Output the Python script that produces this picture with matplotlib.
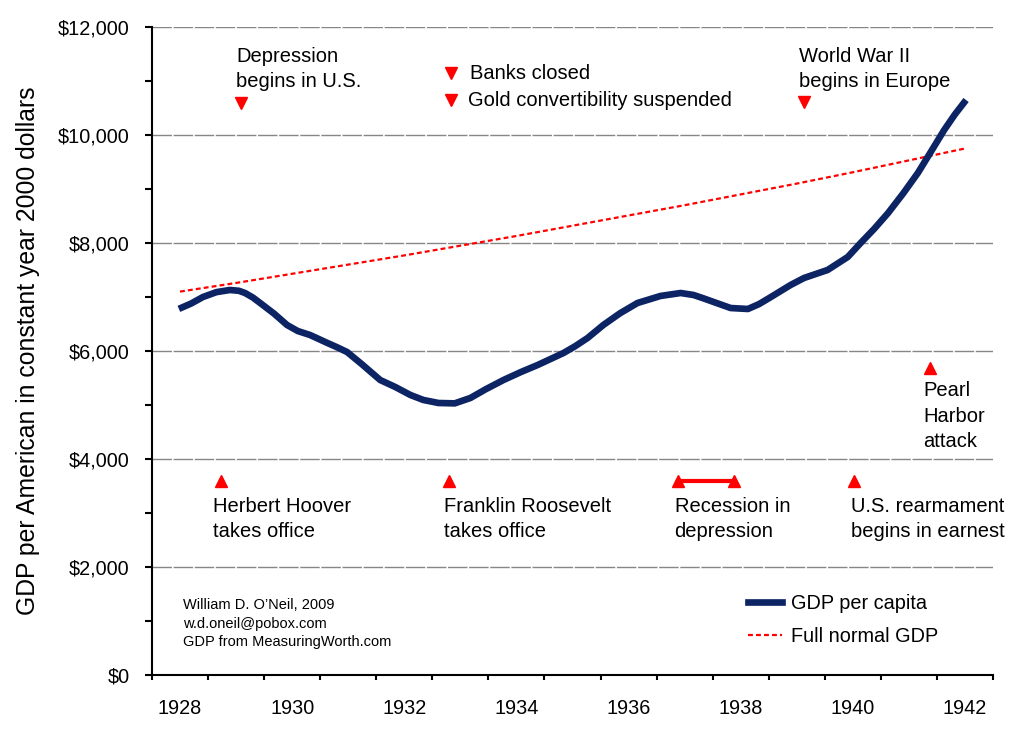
import matplotlib
matplotlib.use("Agg")
import matplotlib.pyplot as plt
from matplotlib.lines import Line2D

plt.rcParams["font.family"] = ["Liberation Sans", "DejaVu Sans"]

# GDP per capita (year position, 2000 dollars)
gdp_years = [1927.98, 1928.2, 1928.41, 1928.65, 1928.89, 1929.05, 1929.16, 1929.3,
             1929.43, 1929.68, 1929.91, 1930.1, 1930.32, 1930.63, 1930.8,
             1930.98, 1931.25, 1931.57, 1931.84, 1932.11, 1932.34, 1932.61, 1932.9,
             1933.18, 1933.45, 1933.77, 1934.08, 1934.38, 1934.84, 1935.05, 1935.27,
             1935.55, 1935.85, 1936.16, 1936.57, 1936.93, 1937.16, 1937.35,
             1937.52, 1937.82, 1938.13, 1938.33, 1938.54, 1938.89, 1939.13, 1939.55,
             1939.91, 1940.14, 1940.38, 1940.63, 1940.9, 1941.16, 1941.39, 1941.63,
             1941.82, 1942.02]
gdp_values = [6780, 6880, 7000, 7090, 7130, 7115, 7074, 6990,
              6889, 6690, 6481, 6370, 6296, 6148, 6070,
              5981, 5750, 5463, 5333, 5185, 5093, 5037, 5030,
              5130, 5290, 5463, 5610, 5741, 5963, 6090, 6241,
              6481, 6700, 6889, 7019, 7074, 7037, 6970,
              6907, 6796, 6778, 6870, 7000, 7222, 7352, 7500,
              7741, 8000, 8260, 8556, 8920, 9296, 9685, 10093,
              10380, 10648]

# full normal GDP trend, one value per year
trend_years = list(range(1928, 1943))
trend_values = [7100, 7260, 7430, 7600, 7770, 7950, 8130, 8320,
                8510, 8700, 8900, 9100, 9310, 9530, 9750]

year_labels = [1928, 1930, 1932, 1934, 1936, 1938, 1940, 1942]

# event markers: year position, marker height
down_events_x = [1929.09, 1932.84, 1932.84, 1939.125]
down_events_y = [10593, 11148, 10648, 10611]
up_events_x = [1928.73, 1932.80, 1936.89, 1937.875, 1940.02, 1941.375]
up_events_y = [3593, 3593, 3593, 3593, 3593, 5685]

fig = plt.figure(figsize=(10.24, 7.32), dpi=100)
ax = fig.add_axes([0.1484, 0.0779, 0.9697 - 0.1484, 0.9631 - 0.0779])

ax.set_xlim(1927.5, 1942.5)
ax.set_ylim(0, 12000)

for v in range(2000, 12001, 2000):
    ax.axhline(v, color="#868686", lw=1.0, ls=(0, (14, 1.2)), zorder=1)

ax.plot(trend_years, trend_values, color="#ff0000", lw=1.6, ls=(0, (2.2, 1.4)),
        zorder=3, label="Full normal GDP")
ax.plot(gdp_years, gdp_values, color="#0c2463", lw=4.8, solid_capstyle="butt",
        solid_joinstyle="round", zorder=4, label="GDP per capita")

# recession bar
ax.plot(up_events_x[2:4], up_events_y[2:4], color="#ff0000", lw=3, zorder=4)
ax.plot(down_events_x, down_events_y, ls="none", marker="v", ms=9,
        color="#ff0000", zorder=5)
ax.plot(up_events_x, up_events_y, ls="none", marker="^", ms=9,
        color="#ff0000", zorder=5)

fs = 14.5
txt = dict(fontsize=fs, va="top", ha="left", linespacing=1.42, color="black")
ax.text(1929.0, 11630, "Depression\nbegins in U.S.", **txt)
ax.text(1939.04, 11630, "World War II\nbegins in Europe", **txt)
ax.text(1933.18, 11148, "Banks closed", fontsize=fs, va="center", ha="left")
ax.text(1933.14, 10648, "Gold convertibility suspended", fontsize=fs, va="center", ha="left")
ax.text(1928.59, 3300, "Herbert Hoover\ntakes office", **txt)
ax.text(1932.70, 3300, "Franklin Roosevelt\ntakes office", **txt)
ax.text(1936.82, 3300, "Recession in\ndepression", **txt)
ax.text(1939.96, 3300, "U.S. rearmament\nbegins in earnest", **txt)
ax.text(1941.25, 5440, "Pearl\nHarbor\nattack", **txt)
ax.text(1928.05, 1426, "William D. O\u2019Neil, 2009\nw.d.oneil@pobox.com\nGDP from MeasuringWorth.com",
        fontsize=10.5, va="top", ha="left", linespacing=1.42)

# axes styling
for side in ["top", "right"]:
    ax.spines[side].set_visible(False)
for side in ["left", "bottom"]:
    ax.spines[side].set_linewidth(1.5)
    ax.spines[side].set_color("black")

ax.set_yticks(range(0, 12001, 2000))
ax.set_yticklabels(["${:,}".format(v) for v in range(0, 12001, 2000)])
ax.set_yticks(range(1000, 12000, 2000), minor=True)
ax.tick_params(axis="y", which="both", direction="out", length=5, width=1.5,
               labelsize=14.3, pad=11)

ax.set_xticks(year_labels)
ax.set_xticklabels([str(y) for y in year_labels])
ax.set_xticks([y - 0.5 for y in range(1928, 1944)], minor=True)
ax.tick_params(axis="x", which="major", length=0, labelsize=14.3, pad=17)
ax.tick_params(axis="x", which="minor", direction="out", length=3.5, width=1.5)

ax.set_ylabel("GDP per American in constant year 2000 dollars", fontsize=17.8, labelpad=13)

handles = [Line2D([], [], color="#0c2463", lw=4.8),
           Line2D([], [], color="#ff0000", lw=1.6, ls=(0, (2.2, 1.4)))]
ax.legend(handles, ["GDP per capita", "Full normal GDP"], loc="upper left",
          bbox_to_anchor=(748 / 1024, 1 - 594 / 732), bbox_transform=fig.transFigure,
          frameon=False, fontsize=14.3, handlelength=1.7, handletextpad=0.45,
          labelspacing=0.72, borderpad=0, borderaxespad=0)

fig.savefig("out.png", dpi=100)
